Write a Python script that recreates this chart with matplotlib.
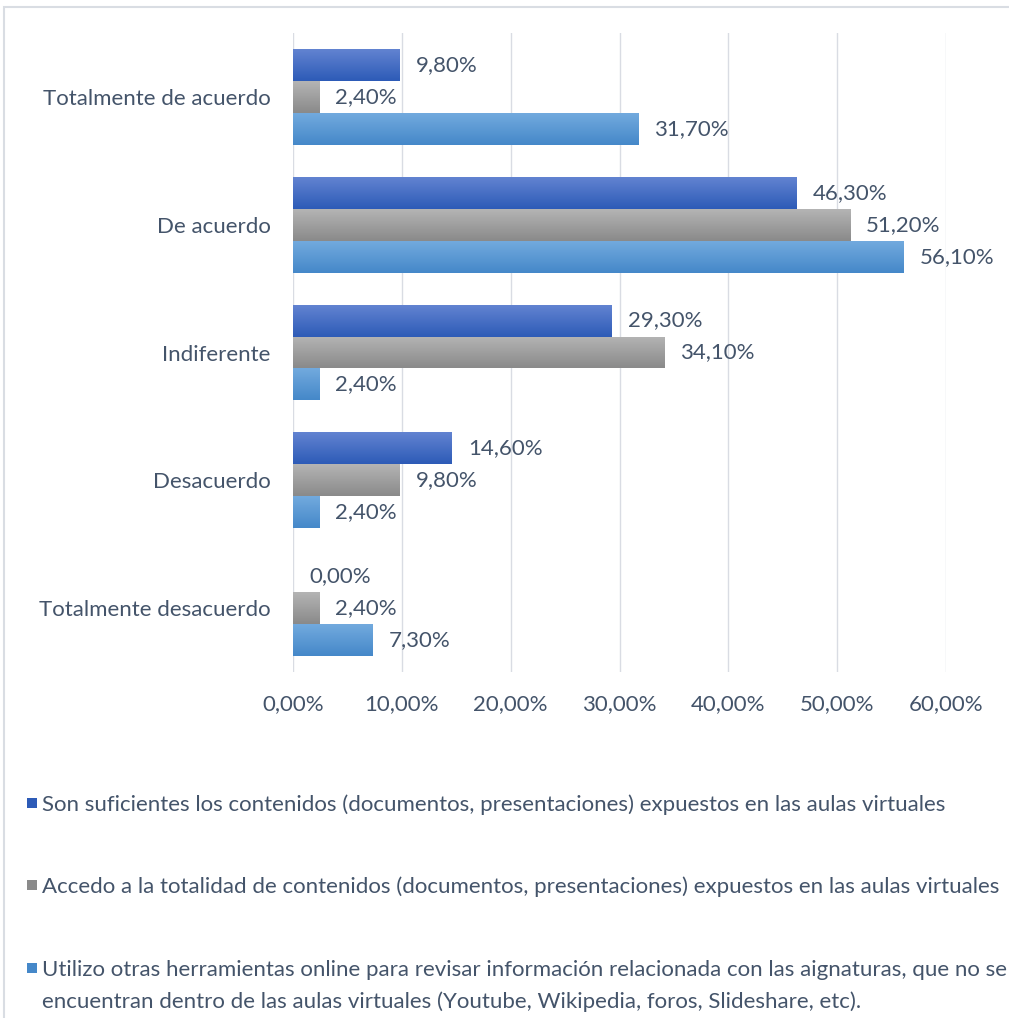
import matplotlib
matplotlib.use("Agg")
import matplotlib.pyplot as plt
import numpy as np
from matplotlib.colors import LinearSegmentedColormap
from matplotlib.patches import Rectangle

categories = ["Totalmente de acuerdo", "De acuerdo", "Indiferente", "Desacuerdo", "Totalmente desacuerdo"]
series_names = [
    "Son suficientes los contenidos (documentos, presentaciones) expuestos en las aulas virtuales",
    "Accedo a la totalidad de contenidos (documentos, presentaciones) expuestos en las aulas virtuales",
    "Utilizo otras herramientas online para revisar información relacionada con las aignaturas, que no se\nencuentran dentro de las aulas virtuales (Youtube, Wikipedia, foros, Slideshare, etc).",
]
suficientes = [9.8, 46.3, 29.3, 14.6, 0.0]
accedo = [2.4, 51.2, 34.1, 9.8, 2.4]
utilizo = [31.7, 56.1, 2.4, 2.4, 7.3]
x_ticks = [0, 10, 20, 30, 40, 50, 60]

series = [suficientes, accedo, utilizo]
grad_colors = [("#6283D1", "#2D5BB7"), ("#B4B4B4", "#8A8A8A"), ("#72AADE", "#4588C9")]
solid = ["#4470C4", "#A0A0A0", "#5B9BD5"]
text_color = "#44546A"
font = "Lato"
fs = 16.05

W, H = 1009, 1018
fig = plt.figure(figsize=(W / 100, H / 100), dpi=100)
ax = fig.add_axes([293 / W, 1 - 672 / H, (946 - 293) / W, (672 - 33) / H])

h = 0.25
offsets = [-0.25, 0.0, 0.25]
y = np.arange(len(categories))
for vals, off, (c0, c1), sc in zip(series, offsets, grad_colors, solid):
    bars = ax.barh(y + off, vals, height=h, color=sc, zorder=2, linewidth=0)
    cmap = LinearSegmentedColormap.from_list("g", [c0, c1])
    grad = np.linspace(0, 1, 64).reshape(-1, 1)
    for b, v, yy in zip(bars, vals, y + off):
        if v > 0:
            im = ax.imshow(grad, cmap=cmap, aspect="auto", origin="upper",
                           extent=(0, v, yy + h / 2, yy - h / 2), zorder=3,
                           interpolation="bilinear")
            im.set_clip_path(b)
        ax.annotate(f"{v:.2f}%".replace(".", ","), (v, yy), xytext=(11.5, 0),
                    textcoords="offset points", va="center", ha="left",
                    fontsize=fs, color=text_color, family=font)

ax.set_xlim(0, 60)
ax.set_ylim(4.5, -0.5)
ax.set_xticks(x_ticks)
ax.set_xticklabels([f"{t:.2f}%".replace(".", ",") for t in x_ticks],
                   fontsize=fs, color=text_color, family=font)
ax.set_yticks(y)
ax.set_yticklabels(categories, fontsize=fs, color=text_color, family=font)
ax.tick_params(axis="both", length=0)
ax.tick_params(axis="x", pad=16)
ax.tick_params(axis="y", pad=16)
ax.grid(axis="x", color="#D9DCE3", linewidth=1, zorder=0)
ax.set_axisbelow(True)
for s in ax.spines.values():
    s.set_visible(False)

# outer chart border
fig.patches.append(Rectangle((4 / W, -0.1), 1.2, 1 - 7 / H + 0.1, transform=fig.transFigure,
                             fill=False, edgecolor="#D9DDE3", linewidth=1.5))

# legend
leg_y = [803, 885, 968]
line_gap = 32
for name, (c0, c1), yy in zip(series_names, grad_colors, leg_y):
    fig.patches.append(Rectangle((27 / W, 1 - (yy + 5) / H), 10 / W, 10 / H,
                                 transform=fig.transFigure, facecolor=c1, edgecolor="none"))
    for i, line in enumerate(name.split("\n")):
        fig.text(42 / W, 1 - (yy + i * line_gap) / H, line, fontsize=fs, color=text_color,
                 family=font, va="center_baseline", ha="left")

fig.savefig("out.png", dpi=100)
